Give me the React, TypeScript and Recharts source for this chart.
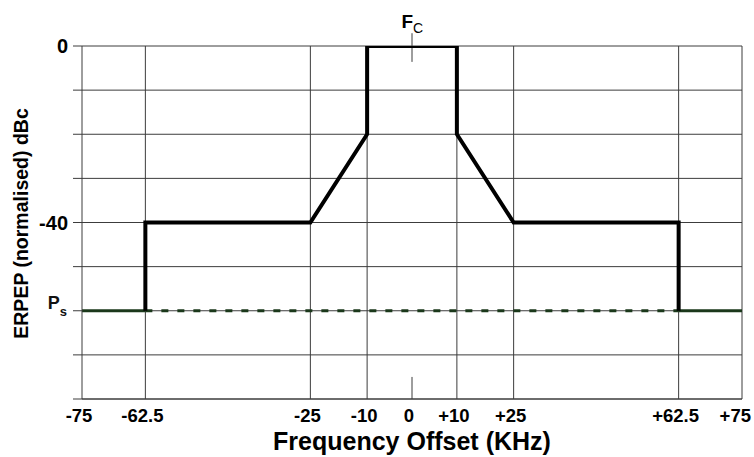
import React from "react";
import {
  LineChart,
  Line,
  XAxis,
  YAxis,
  CartesianGrid,
  ReferenceLine,
} from "recharts";

// spectrum mask corners: frequency offset (kHz) and level (dBc)
const MASK_FREQ = [-62.5, -62.5, -25, -10, -10, 10, 10, 25, 62.5, 62.5];
const MASK_DB = [-60, -40, -40, -20, 0, 0, -20, -40, -40, -60];

// spurious level Ps, solid outside the channel, dashed inside
const PS_LEVEL = -60;
const PS_LEFT_FREQ = [-75, -62.5];
const PS_MID_FREQ = [-62.5, 62.5];
const PS_RIGHT_FREQ = [62.5, 75];

const X_TICKS = [-75, -62.5, -25, -10, 0, 10, 25, 62.5, 75];
const X_TICK_LABELS = ["-75", "-62.5", "-25", "-10", "0", "+10", "+25", "+62.5", "+75"];
const X_GRID = [-62.5, -25, -10, 10, 25, 62.5, 75];

const Y_TICKS = [0, -10, -20, -30, -40, -50, -60, -70, -80];
const Y_LABELED = [0, -40];

// little Fc marker at 0 kHz, top and bottom (dB)
const FC_TOP = [2.9, -3.6];
const FC_BOTTOM = [-75, -80];

// the drawing's frequency axis is not linear: relative position of each tick
const X_WARP = [0, 0.096, 0.346, 0.432, 0.5, 0.568, 0.654, 0.904, 1];

const FONT = "'Liberation Sans', Arial, sans-serif";
const GRID = "#3c3c3c";
const PS_COLOR = "#1b381b";

function makeWarpScale(dom: any[] = [-75, 75], rng: number[] = [0, 1]) {
  const scale: any = (v: number) => {
    let i = 0;
    while (i < X_TICKS.length - 2 && v > X_TICKS[i + 1]) i++;
    const t = (v - X_TICKS[i]) / (X_TICKS[i + 1] - X_TICKS[i]);
    const u = X_WARP[i] + t * (X_WARP[i + 1] - X_WARP[i]);
    return rng[0] + u * (rng[1] - rng[0]);
  };
  scale.domain = (d?: any[]) => {
    if (d === undefined) return dom;
    dom = d;
    return scale;
  };
  scale.range = (r?: number[]) => {
    if (r === undefined) return rng;
    rng = r;
    return scale;
  };
  scale.copy = () => makeWarpScale(dom, rng);
  scale.ticks = () => X_TICKS;
  scale.invert = (px: number) => {
    const u = (px - rng[0]) / (rng[1] - rng[0]);
    let i = 0;
    while (i < X_WARP.length - 2 && u > X_WARP[i + 1]) i++;
    const t = (u - X_WARP[i]) / (X_WARP[i + 1] - X_WARP[i]);
    return X_TICKS[i] + t * (X_TICKS[i + 1] - X_TICKS[i]);
  };
  return scale;
}

const warpScale = makeWarpScale();

const maskData = MASK_FREQ.map((f, i) => ({ f, db: MASK_DB[i] }));
const psData = (freqs: number[]) => freqs.map((f) => ({ f, db: PS_LEVEL }));

function XTick({ x, y, payload }: any) {
  const idx = X_TICKS.indexOf(payload.value);
  const last = idx === X_TICKS.length - 1;
  return (
    <text
      x={last ? x + 9 : x - 3}
      y={y + 23}
      textAnchor={last ? "end" : "middle"}
      fontFamily={FONT}
      fontWeight="bold"
      fontSize={18.5}
      fill="#000"
    >
      {X_TICK_LABELS[idx]}
    </text>
  );
}

function YTick({ x, y, payload }: any) {
  if (payload.value === PS_LEVEL) {
    return (
      <text x={x - 1} y={y - 2} textAnchor="end" fontFamily={FONT} fontWeight="bold" fontSize={18} fill="#111">
        P
        <tspan dy={7} fontSize={13}>s</tspan>
      </text>
    );
  }
  if (!Y_LABELED.includes(payload.value)) return null;
  return (
    <text x={x} y={y + 7} textAnchor="end" fontFamily={FONT} fontWeight="bold" fontSize={20} fill="#000">
      {payload.value}
    </text>
  );
}

function YTitle({ viewBox }: any) {
  const cx = viewBox.x + 21;
  const cy = viewBox.y + viewBox.height / 2 + 1;
  return (
    <text
      x={cx}
      y={cy}
      transform={`rotate(-90 ${cx} ${cy})`}
      textAnchor="middle"
      dominantBaseline="central"
      fontFamily={FONT}
      fontWeight="bold"
      fontSize={19.5}
      fill="#000"
    >
      ERPEP (normalised) dBc
    </text>
  );
}

function XTitle({ viewBox }: any) {
  return (
    <text
      x={viewBox.x + viewBox.width / 2}
      y={viewBox.y + 51}
      textAnchor="middle"
      fontFamily={FONT}
      fontWeight="bold"
      fontSize={25}
      fill="#000"
    >
      Frequency Offset (KHz)
    </text>
  );
}

function FcLabel({ viewBox }: any) {
  return (
    <text x={viewBox.x + 1} y={viewBox.y - 5} fontFamily={FONT} fill="#000" textAnchor="end">
      <tspan fontWeight="bold" fontSize={19}>F</tspan>
      <tspan dy={5} fontSize={14} textAnchor="start" x={viewBox.x + 1}>C</tspan>
    </text>
  );
}

export default function App() {
  return (
    <div style={{ position: "absolute", left: 0, top: 0, background: "#fff" }}>
      <LineChart width={754} height={457} margin={{ top: 46, right: 12, bottom: 0, left: 0 }}>
        <CartesianGrid vertical={false} stroke={GRID} strokeWidth={1} />
        <XAxis
          dataKey="f"
          type="number"
          scale={warpScale}
          domain={[-75, 75]}
          allowDataOverflow
          ticks={X_TICKS}
          interval={0}
          tickLine={false}
          tickSize={0}
          tickMargin={0}
          height={58}
          axisLine={{ stroke: GRID }}
          tick={<XTick />}
          label={(props: any) => <XTitle {...props} />}
        />
        <YAxis
          type="number"
          domain={[-80, 0]}
          allowDataOverflow
          ticks={Y_TICKS}
          interval={0}
          width={82}
          tickSize={9}
          tickMargin={5}
          tickLine={{ stroke: GRID }}
          axisLine={{ stroke: GRID }}
          tick={<YTick />}
          label={(props: any) => <YTitle {...props} />}
        />
        {X_GRID.map((f) => (
          <ReferenceLine key={f} x={f} stroke={GRID} strokeWidth={1} />
        ))}
        <ReferenceLine
          segment={[{ x: 0, y: FC_TOP[0] }, { x: 0, y: FC_TOP[1] }]}
          ifOverflow="visible"
          stroke={GRID}
          label={(props: any) => <FcLabel {...props} />}
        />
        <ReferenceLine
          segment={[{ x: 0, y: FC_BOTTOM[0] }, { x: 0, y: FC_BOTTOM[1] }]}
          ifOverflow="visible"
          stroke={GRID}
        />
        <Line data={psData(PS_LEFT_FREQ)} dataKey="db" stroke={PS_COLOR} strokeWidth={3} dot={false} isAnimationActive={false} />
        <Line
          data={psData(PS_MID_FREQ)}
          dataKey="db"
          stroke={PS_COLOR}
          strokeWidth={3}
          strokeDasharray="7 9"
          dot={false}
          isAnimationActive={false}
        />
        <Line data={psData(PS_RIGHT_FREQ)} dataKey="db" stroke={PS_COLOR} strokeWidth={3} dot={false} isAnimationActive={false} />
        <Line data={maskData} dataKey="db" stroke="#000" strokeWidth={4} strokeLinejoin="miter" dot={false} isAnimationActive={false} />
      </LineChart>
    </div>
  );
}
